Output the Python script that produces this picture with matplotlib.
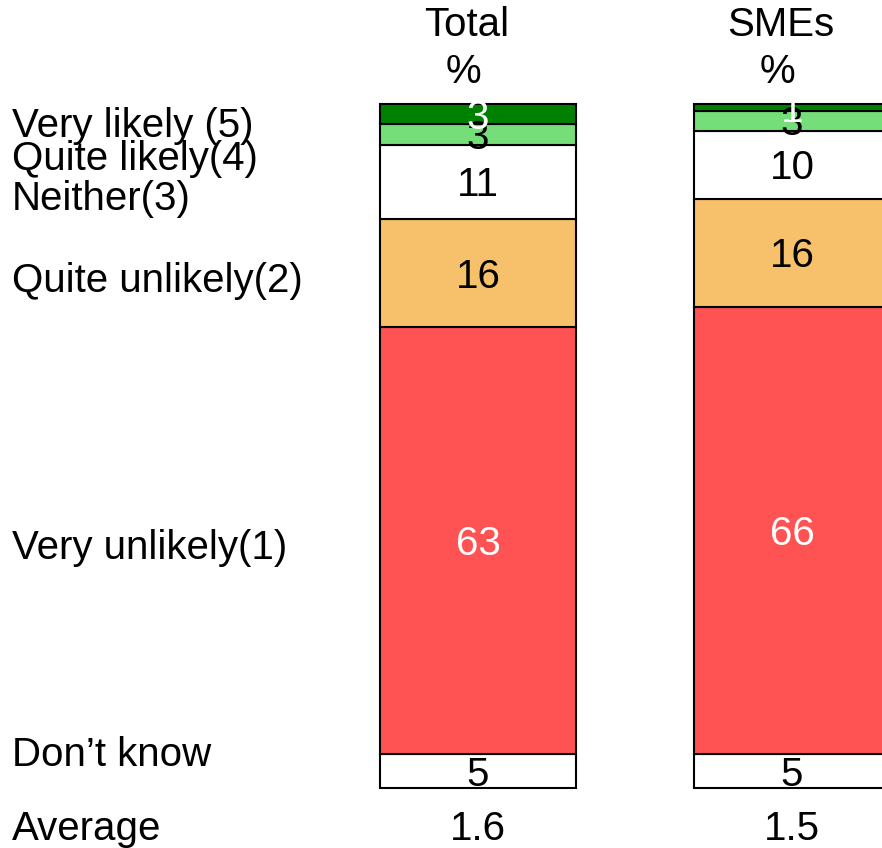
import matplotlib
matplotlib.use("Agg")
import matplotlib.pyplot as plt

plt.rcParams['font.family'] = ['Liberation Sans', 'DejaVu Sans']

# data
groups = ['Total', 'SMEs']
averages = ['1.6', '1.5']
# stacked from bottom to top
segments = ["Don\u2019t know", 'Very unlikely(1)', 'Quite unlikely(2)', 'Neither(3)',
            'Quite likely(4)', 'Very likely (5)']
values = {
    'Total': [5, 63, 16, 11, 3, 3],
    'SMEs': [5, 66, 16, 10, 3, 1],
}
colors = ['#FFFFFF', '#FF5252', '#F7C06A', '#FFFFFF', '#76DE78', '#008000']
label_colors = ['black', 'white', 'black', 'black', 'black', 'white']

W, H = 882, 848
fig = plt.figure(figsize=(W / 100, H / 100), dpi=100)
ax = fig.add_axes([0, 0, 1, 1])
ax.axis('off')

# scale: 0% at pixel row 788, 101% at row 104
px_per_unit = 684 / 101
bottom_px = H - 788
ax.set_ylim(-bottom_px / px_per_unit, (H - bottom_px) / px_per_unit)
spacing = 314
ax.set_xlim(-478 / spacing, (W - 478) / spacing)
width = 196 / spacing

fs = 29
half_cap = 14.5 / px_per_unit  # shift so digits look centred
for i, g in enumerate(groups):
    base = 0
    for j, v in enumerate(values[g]):
        ax.bar(i, v, width, bottom=base, color=colors[j], edgecolor='black',
               linewidth=1.5)
        ax.text(i, base + v / 2 - half_cap, str(v), ha='center', va='baseline',
                fontsize=fs, color=label_colors[j])
        base += v
    fig.text((478 + i * spacing - 11) / W, 1 - 25 / H, g, ha='center',
             va='center', fontsize=fs)
    fig.text((478 + i * spacing - 15) / W, 1 - 72 / H, '%', ha='center',
             va='center', fontsize=fs)
    fig.text((478 + i * spacing) / W, 1 - 829 / H, averages[i], ha='center',
             va='center', fontsize=fs)

# row labels on the left (pixel rows from the top)
row_y = [755, 548, 281, 199, 159, 126]
for name, y in zip(segments, row_y):
    fig.text(12 / W, 1 - y / H, name, ha='left', va='center', fontsize=fs)
fig.text(12 / W, 1 - 829 / H, 'Average', ha='left', va='center', fontsize=fs)

fig.savefig('out.png', dpi=100)
